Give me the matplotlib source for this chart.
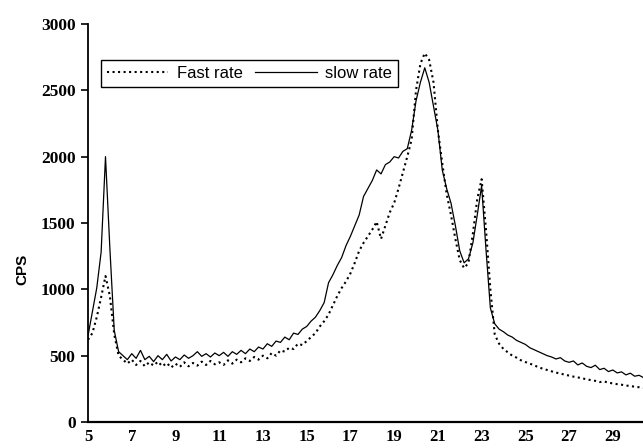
import matplotlib.pyplot as plt
import numpy as np

# sampling grid of the scan (energy channel)
x_start = 5.0
x_step = 0.2

# slow rate (solid line), one row per unit of x
slow_rate = [
    650, 830, 1010, 1280, 2000,
    1310, 690, 530, 500, 470,
    515, 480, 540, 470, 495,
    455, 500, 470, 510, 460,
    490, 470, 505, 480, 500,
    530, 495, 515, 490, 520,
    500, 525, 495, 530, 510,
    540, 515, 550, 530, 565,
    550, 590, 570, 610, 600,
    640, 620, 670, 660, 700,
    720, 760, 790, 840, 900,
    1050, 1110, 1180, 1240, 1330,
    1400, 1480, 1560, 1700, 1760,
    1820, 1900, 1870, 1940, 1960,
    2000, 1990, 2040, 2060, 2200,
    2420, 2560, 2670, 2560, 2380,
    2200, 1900, 1760, 1650, 1480,
    1290, 1200, 1230, 1350, 1560,
    1780, 1300, 860, 740, 700,
    680, 655, 640, 615, 600,
    585, 560, 545, 530, 515,
    500, 490, 475, 485, 460,
    450, 460, 430, 445, 420,
    410, 428, 395, 405, 380,
    392, 370, 378, 355, 368,
    345, 352, 335,
]

# fast rate (dotted line)
fast_rate = [
    620, 670, 790, 940, 1100,
    950, 660, 500, 470, 440,
    470, 430, 460, 420, 450,
    425, 455, 420, 445, 410,
    440, 415, 450, 420, 445,
    425, 455, 430, 460, 435,
    450, 430, 465, 440, 470,
    450, 480, 460, 490, 470,
    500, 480, 520, 500, 540,
    530, 560, 550, 590, 580,
    610, 640, 670, 720, 760,
    810, 880, 950, 1010, 1060,
    1120, 1200, 1290, 1350, 1400,
    1450, 1510, 1380, 1480, 1580,
    1650, 1760, 1880, 2000, 2130,
    2500, 2700, 2780, 2730, 2560,
    2200, 1950, 1720, 1560, 1380,
    1220, 1160, 1200, 1420, 1680,
    1830, 1450, 1000, 660, 590,
    550, 525, 500, 485, 465,
    452, 440, 428, 412, 402,
    392, 382, 372, 366, 356,
    350, 342, 336, 330, 321,
    316, 310, 301, 306, 296,
    291, 285, 281, 275, 271,
    266, 262, 258,
]

x = x_start + x_step * np.arange(len(slow_rate))

x_ticks = [5, 7, 9, 11, 13, 15, 17, 19, 21, 23, 25, 27, 29]
y_ticks = [0, 500, 1000, 1500, 2000, 2500, 3000]

fig = plt.figure(figsize=(6.43, 4.48), dpi=100)
ax = fig.add_axes([88 / 643, 1 - 422 / 448, 1 - 88 / 643, 398 / 448])

ax.plot(x, fast_rate, color='black', linestyle=':', linewidth=1.5, label='Fast rate')
ax.plot(x, slow_rate, color='black', linestyle='-', linewidth=0.9, label='slow rate')

ax.set_xlim(5, 30.38)
ax.set_ylim(0, 3000)
ax.set_xticks(x_ticks)
ax.set_yticks(y_ticks)

ax.spines['top'].set_visible(False)
ax.spines['right'].set_visible(False)
ax.spines['left'].set_linewidth(1.3)
ax.spines['bottom'].set_linewidth(1.6)

ax.tick_params(axis='x', length=0, pad=5)
ax.tick_params(axis='y', direction='out', length=5, width=1.2, pad=4)
for lab in ax.get_xticklabels():
    lab.set_fontfamily('Liberation Serif')
    lab.set_fontweight('bold')
    lab.set_fontsize(12)
for lab in ax.get_yticklabels():
    lab.set_fontfamily('Liberation Serif')
    lab.set_fontweight('bold')
    lab.set_fontsize(12.5)

fig.text(22 / 643, 1 - 269 / 448, 'CPS', rotation=90, ha='center', va='center',
         fontfamily='Liberation Sans', fontweight='bold', fontsize=11)

leg = ax.legend(loc='upper left', bbox_to_anchor=(0.0229, 0.9095), ncol=2,
                frameon=True, fancybox=False, framealpha=1, edgecolor='black',
                borderpad=0.35, handlelength=3.7, handletextpad=0.5,
                columnspacing=0.75, borderaxespad=0,
                prop={'family': 'Liberation Sans', 'size': 12})
leg.get_frame().set_linewidth(1.0)

fig.savefig('out.png', dpi=100)
